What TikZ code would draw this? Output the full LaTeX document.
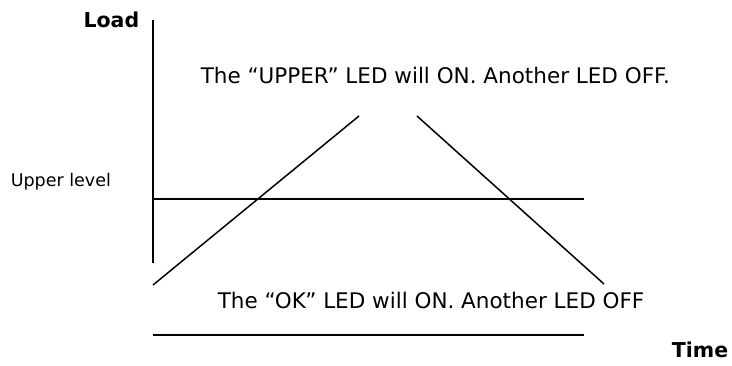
\documentclass[tikz,border=0pt]{standalone}
\usepackage{fontspec}
\setmainfont{DejaVu Sans}
\begin{document}
\begin{tikzpicture}[x=1pt, y=-1pt, line width=1.5pt,
  msg/.style={font=\fontsize{21.5}{24}\selectfont, inner sep=0pt},
  axislabel/.style={font=\fontsize{20.5}{24}\selectfont\bfseries, inner sep=0pt}]
  \useasboundingbox (0,0) rectangle (732,365);

  % Axis and levels
  \coordinate (top) at (153,20);
  \coordinate (foot) at (153,263);
  \draw (top) -- (foot);
  \draw (153,199) -- (584,199);
  \draw (153,335) -- (584,335);

  % Load ramp
  \draw (153,285) -- (359,116);
  \draw (417,116) -- (604,284);

  % Labels
  \node[axislabel, anchor=east] (load) at (140,20) {Load};
  \node[axislabel, anchor=base east] (time) at (729,357) {Time};
  \node[font=\fontsize{17.5}{20}\selectfont, inner sep=0pt, anchor=west] (upper) at (10,182) {Upper level};
  \node[msg, anchor=west] (upmsg) at (200,75) {The “UPPER” LED will ON. Another LED OFF.};
  \node[msg, anchor=west] (okmsg) at (217,300) {The “OK” LED will ON. Another LED OFF};
\end{tikzpicture}
\end{document}
